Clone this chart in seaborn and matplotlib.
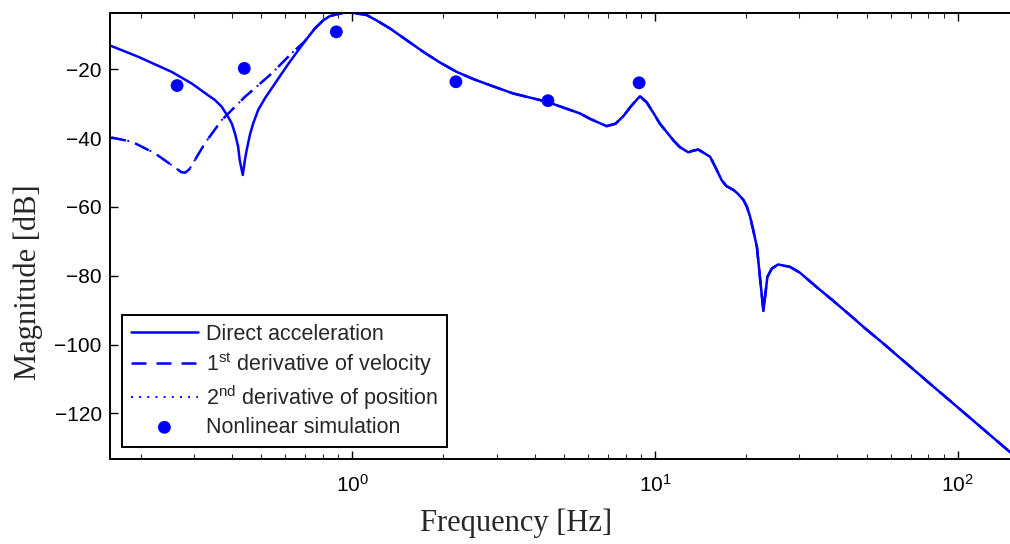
import numpy as np
import pandas as pd
import seaborn as sns
import matplotlib
matplotlib.use("Agg")
import matplotlib.pyplot as plt
from matplotlib.ticker import LogLocator, FixedLocator, FixedFormatter, NullFormatter

# ---------------- data ----------------
direct_freq = [0.160, 0.196, 0.253, 0.295, 0.334, 0.352, 0.371, 0.389, 0.400, 0.410,
               0.420, 0.425, 0.435, 0.442, 0.448, 0.459, 0.471, 0.489, 0.515, 0.585,
               0.622, 0.698, 0.753, 0.803, 0.844, 0.888, 0.950, 0.995, 1.116, 1.20,
               1.332, 1.512, 1.717, 1.948, 2.21, 2.51, 2.85, 3.40, 4.39, 5.65,
               6.11, 6.92, 7.40, 7.86, 8.35, 8.92, 9.39, 9.9, 10.38, 10.9,
               11.49, 12.08, 12.88, 13.4, 13.9, 15.2, 15.8, 16.6, 17.2, 18.2,
               18.8, 19.6, 20.1, 20.6, 21.1, 21.7, 22.2, 22.8, 23.5, 24.3,
               25.5, 27.9, 30.1, 34.1, 38.7, 44.0, 49.9, 56.8, 64.5, 73.3,
               83.0, 94.2, 121.0, 149.0]
direct_db = [-13.2, -16.3, -20.7, -24.1, -27.5, -28.9, -30.9, -33.8, -35.7, -38.6,
             -42.5, -46.4, -50.7, -46.4, -43.5, -39.1, -35.7, -31.8, -28.4, -21.2,
             -17.8, -11.8, -8.1, -5.7, -4.5, -4.0, -3.4, -3.5, -4.2, -5.7,
             -8.1, -11.5, -14.9, -18.0, -20.7, -22.8, -24.6, -27.0, -29.4, -32.8,
             -34.4, -36.5, -35.8, -33.6, -30.6, -27.8, -29.6, -32.8, -35.8, -38.1,
             -40.6, -42.6, -44.1, -43.6, -43.3, -45.4, -48.3, -52.2, -53.9, -55.1,
             -56.2, -58.0, -59.9, -62.8, -66.7, -71.6, -80.3, -90.2, -80.3, -77.9,
             -76.7, -77.4, -79.1, -83.2, -87.2, -91.4, -95.6, -99.7, -103.9, -108.1,
             -112.2, -116.3, -124.5, -131.3]

# low-frequency part of the derivative-based estimates (they coincide with
# the direct curve above ~0.66 Hz)
deriv_low_freq = [0.160, 0.187, 0.223, 0.253, 0.273, 0.281, 0.290, 0.302, 0.326, 0.371,
                  0.442, 0.542, 0.631]
deriv_low_db = [-39.8, -41.0, -44.4, -47.8, -49.9, -50.0, -49.0, -46.4, -41.5, -34.7,
                -28.0, -21.2, -15.3]

sim_freq = [0.264, 0.44, 0.886, 2.2, 4.43, 8.86]
sim_db = [-24.7, -19.7, -9.1, -23.6, -29.1, -23.9]

x_ticks = [1, 10, 100]
x_tick_labels = [r"$\mathregular{10^{0}}$", r"$\mathregular{10^{1}}$", r"$\mathregular{10^{2}}$"]
y_ticks = [-120, -100, -80, -60, -40, -20]

# ---------------- style ----------------
sns.set_style("ticks")
plt.rcParams["font.family"] = ["Liberation Sans", "DejaVu Sans"]
plt.rcParams["mathtext.fontset"] = "custom"
plt.rcParams["mathtext.rm"] = "Liberation Sans"
plt.rcParams["mathtext.it"] = "Liberation Sans:italic"
plt.rcParams["mathtext.bf"] = "Liberation Sans:bold"

BLUE = (0, 0, 1)

direct = pd.DataFrame({"f": direct_freq, "db": direct_db})
hi = direct[direct["f"] > 0.66]
deriv = pd.concat([pd.DataFrame({"f": deriv_low_freq, "db": deriv_low_db}), hi], ignore_index=True)
sim = pd.DataFrame({"f": sim_freq, "db": sim_db})

fig = plt.figure(figsize=(10.10, 5.44), dpi=100)
ax = fig.add_axes([110 / 1010, 1 - 458.5 / 544, 900 / 1010, (458.5 - 13.3) / 544])

sns.lineplot(data=direct, x="f", y="db", ax=ax, color=BLUE, lw=1.8, sort=False,
             estimator=None, label="Direct acceleration")
sns.lineplot(data=deriv, x="f", y="db", ax=ax, color=BLUE, lw=1.8, sort=False,
             estimator=None, label=r"1$^{\mathregular{st}}$ derivative of velocity")
sns.lineplot(data=deriv, x="f", y="db", ax=ax, color=BLUE, lw=1.4, sort=False,
             estimator=None, label=r"2$^{\mathregular{nd}}$ derivative of position")
lines = ax.get_lines()
lines[0].set_solid_joinstyle("round")
lines[1].set_dashes((6, 4))
lines[2].set_dashes((1, 3.2))
sns.scatterplot(data=sim, x="f", y="db", ax=ax, color=BLUE, s=85, edgecolor="none",
                label="Nonlinear simulation", zorder=5)

ax.set_xscale("log")
ax.set_xlim(0.1585, 148.7)
ax.set_ylim(-133.1, -3.7)

ax.xaxis.set_major_locator(FixedLocator(x_ticks))
ax.xaxis.set_major_formatter(FixedFormatter(x_tick_labels))
ax.xaxis.set_minor_locator(LogLocator(base=10, subs=np.arange(2, 10), numticks=20))
ax.xaxis.set_minor_formatter(NullFormatter())
ax.set_yticks(y_ticks)
ax.set_yticklabels([f"\u2212{abs(v)}" for v in y_ticks])

ax.tick_params(axis="both", which="major", direction="in", length=6, width=1,
               labelsize=15, top=True, right=False, colors="black", pad=6)
ax.tick_params(axis="x", which="minor", direction="in", length=3.5, width=0.8, top=True)
ax.tick_params(axis="x", which="major", pad=11)

for s in ["left", "bottom", "top", "right"]:
    ax.spines[s].set_linewidth(1.4)
    ax.spines[s].set_color("black")
ax.spines["right"].set_visible(False)

ax.set_xlabel("Frequency [Hz]", family=["Liberation Serif"], fontsize=22)
ax.set_ylabel("Magnitude [dB]", family=["Liberation Serif"], fontsize=22)
ax.xaxis.set_label_coords((516 - 110) / 900, -(509 - 458.5) / 445.2)
ax.yaxis.set_label_coords((43 - 110) / 900, (458.5 - 282) / 445.2)

leg = ax.legend(loc="lower left", bbox_to_anchor=(12 / 900, 11.5 / 445.2),
                borderaxespad=0, fontsize=15.5, frameon=True, fancybox=False,
                framealpha=1, edgecolor="black", handlelength=3.1, handletextpad=0.38,
                labelspacing=0.24, borderpad=0.42)
leg.get_frame().set_linewidth(1.4)

fig.savefig("out.png", dpi=100)
